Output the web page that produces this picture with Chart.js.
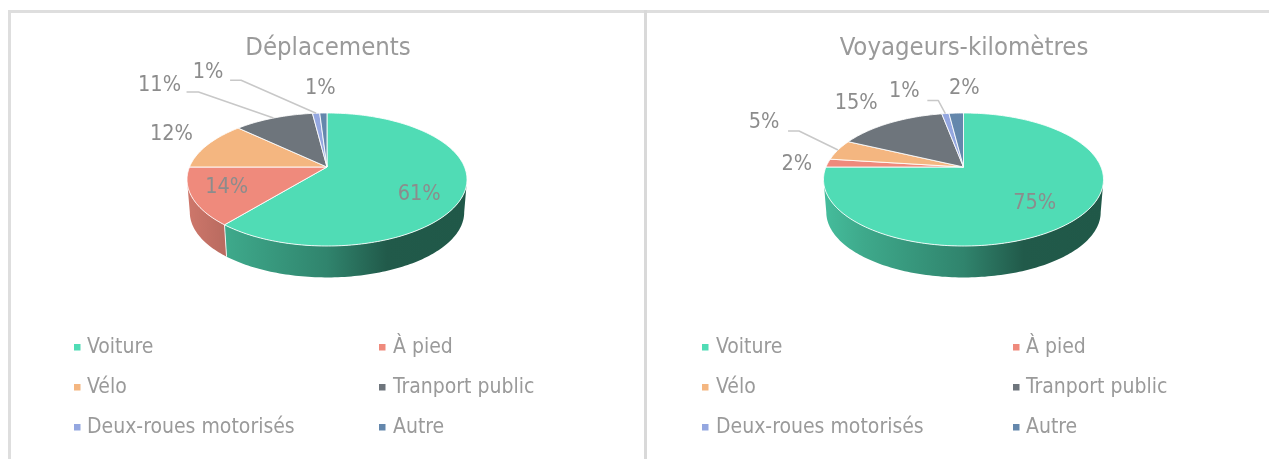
<!DOCTYPE html>
<html><head><meta charset="utf-8">
<style>
html,body{margin:0;padding:0;background:#fff;overflow:hidden;width:1269px;height:459px;position:relative}
#top{position:absolute;left:8px;top:10px;width:1261px;height:3px;background:#dedede}
#l{position:absolute;left:8px;top:10px;width:3px;height:449px;background:#dedede}
#m{position:absolute;left:644px;top:10px;width:3px;height:449px;background:#d9d9d9}
canvas{position:absolute;top:0}
</style>
<script src="https://cdn.jsdelivr.net/npm/chart.js@4/dist/chart.umd.min.js"></script>
</head><body>
<div id="top"></div><div id="l"></div><div id="m"></div>
<canvas id="c1" width="634" height="459" style="left:11px"></canvas>
<canvas id="c2" width="634" height="459" style="left:647px"></canvas>
<script>
const categories = ["Voiture","À pied","Vélo","Tranport public","Deux-roues motorisés","Autre"];
const deplacements = [61,14,12,11,1,1];
const voyageursKm = [75,2,5,15,1,2];
const titles = ["Déplacements","Voyageurs-kilomètres"];
const colors = ["#50dcb5","#ef8a7c","#f4b680","#6e757c","#94a7e0","#6487ac"];

const FONT = '"DejaVu Sans Condensed","DejaVu Sans",sans-serif';
const TEXT = "#9a9a9a";

// Perspective model of the pie
const K = -0.188, BY = 64.15, AX = 137.5, DEPTH = 33, BOTTOM_SCALE = 0.98;
const SIDE_FROM = 0.189, SIDE_TO = Math.PI - 0.189;

const layouts = [
 { cx:316, cy:167, legendCols:[63,368], legendText:[76,382],
   labels:[[-46,4],[35,-9],[-36,-10],[-114,-33],[-108,-41],[-3,-25]],
   leaders:{3:[[-87,-26],[-75,-26]], 4:[[-86,-33],[-75,-33]]} },
 { cx:316.5, cy:167, legendCols:[55,366], legendText:[69,379],
   labels:[[-41,-16],[-31,1],[-74,-28],[-34,-19],[-41,-22],[8,-25]],
   leaders:{2:[[-50,-19],[-39,-19]], 4:[[-18,-13],[-7,-13]]} }
];

function project(L, ang, r, h){ // ang in chart radians (0 = right, clockwise)
  const u = Math.cos(ang)*r, v = Math.sin(ang)*r, w = 1 + K*v;
  const s = h ? BOTTOM_SCALE : 1;
  return { x: L.cx + AX*u/w*s, y: L.cy + BY*v/w*s + (h?DEPTH:0) };
}
function shade(hex, f){
  const n = parseInt(hex.slice(1),16);
  const c = [n>>16&255,n>>8&255,n&255].map(v=>Math.round(v*f));
  return `rgb(${c[0]},${c[1]},${c[2]})`;
}
const shadeStops = [[-140,.86],[-100,.77],[0,.60],[60,.41],[140,.40]];

const pie3d = {
  id:'pie3d',
  beforeDatasetDraw(chart, args){
    const L = chart.options.plugins.pie3d.layout;
    const ctx = chart.ctx;
    const arcs = chart.getDatasetMeta(args.index).data;
    const base = chart.data.datasets[args.index].backgroundColor;
    // front-facing sides only
    arcs.forEach((a,i)=>{
      const t0 = Math.max(a.startAngle,SIDE_FROM), t1 = Math.min(a.endAngle,SIDE_TO);
      if(t1<=t0) return;
      const g = ctx.createLinearGradient(L.cx-140,0,L.cx+140,0);
      shadeStops.forEach(s=>g.addColorStop((s[0]+140)/280, shade(base[i],s[1])));
      const steps = Math.max(2,Math.ceil((t1-t0)/0.02));
      ctx.beginPath();
      for(let k=0;k<=steps;k++){
        const p = project(L,t0+(t1-t0)*k/steps,1,false);
        k?ctx.lineTo(p.x,p.y):ctx.moveTo(p.x,p.y);
      }
      for(let k=steps;k>=0;k--){
        const p = project(L,t0+(t1-t0)*k/steps,1,true);
        ctx.lineTo(p.x,p.y);
      }
      ctx.closePath(); ctx.fillStyle=g; ctx.fill();
      if(a.startAngle>SIDE_FROM && a.startAngle<SIDE_TO){
        const p=project(L,a.startAngle,1,false), q=project(L,a.startAngle,1,true);
        ctx.beginPath();ctx.moveTo(p.x,p.y);ctx.lineTo(q.x,q.y);
        ctx.strokeStyle='rgba(255,255,255,.85)';ctx.lineWidth=1;ctx.stroke();
      }
    });
    // top faces
    arcs.forEach((a,i)=>{
      const steps = Math.max(2,Math.ceil((a.endAngle-a.startAngle)/0.02));
      ctx.beginPath();
      ctx.moveTo(L.cx,L.cy);
      for(let k=0;k<=steps;k++){
        const p = project(L,a.startAngle+(a.endAngle-a.startAngle)*k/steps,1,false);
        ctx.lineTo(p.x,p.y);
      }
      ctx.closePath();
      ctx.fillStyle=base[i];ctx.fill();
      ctx.strokeStyle='rgba(255,255,255,.85)';ctx.lineWidth=1;ctx.lineJoin='round';ctx.stroke();
    });
    return false;
  },
  afterDraw(chart){
    const L = chart.options.plugins.pie3d.layout;
    const ctx = chart.ctx, arcs = chart.getDatasetMeta(0).data;
    const vals = chart.data.datasets[0].data;
    ctx.save();
    ctx.textAlign='center';ctx.textBaseline='middle';
    arcs.forEach((a,i)=>{
      const mid=(a.startAngle+a.endAngle)/2, rim=project(L,mid,1,false);
      const off=L.labels[i];
      if(L.leaders[i]){
        ctx.beginPath();
        const [a1,a2]=L.leaders[i];
        ctx.moveTo(rim.x+a1[0],rim.y+a1[1]);
        ctx.lineTo(rim.x+a2[0],rim.y+a2[1]);
        ctx.lineTo(rim.x,rim.y);
        ctx.strokeStyle='#c8c8c8';ctx.lineWidth=1.5;ctx.stroke();
      }
      ctx.font='21.5px '+FONT;
      ctx.fillStyle='#8c8c8c';
      ctx.fillText(vals[i]+'%',rim.x+off[0],rim.y+off[1]);
    });
    // legend in two columns
    ctx.textAlign='left';
    ctx.font='21px '+FONT;
    chart.data.labels.forEach((t,i)=>{
      const col=i%2,row=Math.floor(i/2),y=347+row*40;
      ctx.fillStyle=chart.data.datasets[0].backgroundColor[i];
      ctx.fillRect(L.legendCols[col],y-3,6.5,6.5);
      ctx.fillStyle=TEXT;
      ctx.fillText(t,L.legendText[col],y+1);
    });
    ctx.restore();
  }
};

[deplacements,voyageursKm].forEach((vals,n)=>{
  new Chart(document.getElementById(n?'c2':'c1').getContext('2d'),{
    type:'pie',
    data:{labels:categories,datasets:[{data:vals,backgroundColor:colors}]},
    options:{
      responsive:false,animation:false,
      rotation:0,
      plugins:{
        legend:{display:false},tooltip:{enabled:false},
        title:{display:true,text:titles[n],color:TEXT,padding:{top:33,bottom:0},
               font:{family:FONT,size:25.5,weight:'normal'}},
        pie3d:{layout:layouts[n]}
      }
    },
    plugins:[pie3d]
  });
});
</script>
</body></html>
